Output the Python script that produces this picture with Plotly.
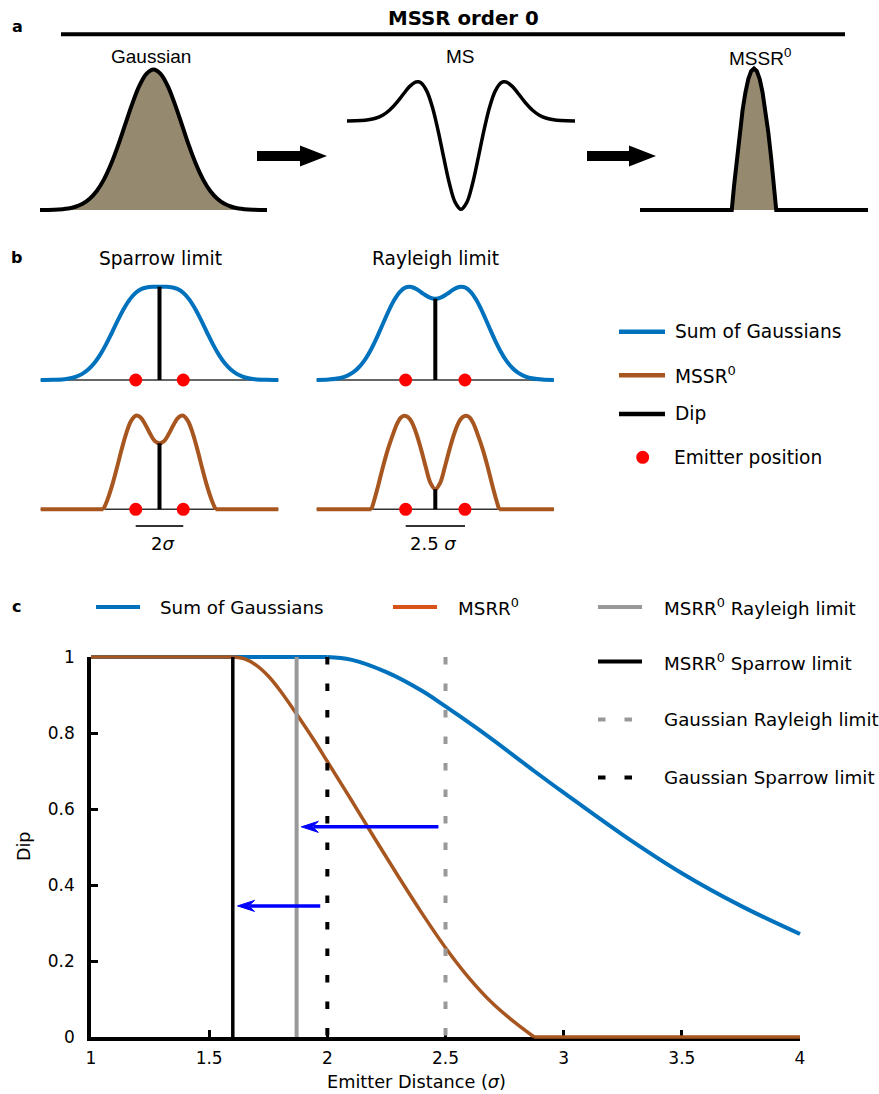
import plotly.graph_objects as go

W, H = 879, 1094
DV = "DejaVu Sans"
AR = "Liberation Sans"

# ---------------- Panel a data (profiles, x in sigma units) ----------------
gauss_x = [-4, -3.5, -3, -2.75, -2.5, -2.25, -2, -1.75, -1.5, -1.25, -1, -0.75, -0.5, -0.25, 0,
           0.25, 0.5, 0.75, 1, 1.25, 1.5, 1.75, 2, 2.25, 2.5, 2.75, 3, 3.5, 4]
gauss_y = [0.0003, 0.0022, 0.011, 0.023, 0.044, 0.080, 0.135, 0.216, 0.325, 0.458, 0.607, 0.755, 0.883, 0.969, 1.0,
           0.969, 0.883, 0.755, 0.607, 0.458, 0.325, 0.216, 0.135, 0.080, 0.044, 0.023, 0.011, 0.0022, 0.0003]

ms_x = [-4, -3.5, -3.25, -3, -2.75, -2.5, -2.25, -2, -1.8, -1.6, -1.5, -1.4, -1.2, -1, -0.8, -0.6, -0.4, -0.2, 0,
        0.2, 0.4, 0.6, 0.8, 1, 1.2, 1.4, 1.5, 1.6, 1.8, 2, 2.25, 2.5, 2.75, 3, 3.25, 3.5, 4]
ms_y = [0.001, 0.005, 0.014, 0.032, 0.066, 0.125, 0.211, 0.315, 0.393, 0.442, 0.446, 0.432, 0.339, 0.153, -0.115,
        -0.424, -0.716, -0.924, -1.0,
        -0.924, -0.716, -0.424, -0.115, 0.153, 0.339, 0.432, 0.446, 0.442, 0.393, 0.315, 0.211, 0.125, 0.066,
        0.032, 0.014, 0.005, 0.001]

mssr_x = [-4, -0.78, -0.7, -0.6, -0.5, -0.4, -0.3, -0.2, -0.1, 0, 0.1, 0.2, 0.3, 0.4, 0.5, 0.6, 0.7, 0.78, 4]
mssr_y = [0, 0, 0.171, 0.372, 0.552, 0.707, 0.832, 0.925, 0.981, 1.0, 0.981, 0.925, 0.832, 0.707, 0.552, 0.372,
          0.171, 0, 0]

# ---------------- Panel b data ----------------
bx = [-5, -4.5, -4, -3.75, -3.5, -3.25, -3, -2.75, -2.5, -2.25, -2, -1.75, -1.5, -1.25, -1, -0.75, -0.5, -0.25, 0,
      0.25, 0.5, 0.75, 1, 1.25, 1.5, 1.75, 2, 2.25, 2.5, 2.75, 3, 3.25, 3.5, 3.75, 4, 4.5, 5]
sum_sparrow = [0.0003, 0.0018, 0.0092, 0.0188, 0.0362, 0.0656, 0.1118, 0.1790, 0.2695, 0.3816, 0.5091, 0.6410,
               0.7637, 0.8646, 0.9359, 0.9773, 0.9951, 0.9996, 1.0,
               0.9996, 0.9951, 0.9773, 0.9359, 0.8646, 0.7637, 0.6410, 0.5091, 0.3816, 0.2695, 0.1790, 0.1118,
               0.0656, 0.0362, 0.0188, 0.0092, 0.0018, 0.0003]
sum_rayleigh = [0.0009, 0.0048, 0.0217, 0.0417, 0.0757, 0.1286, 0.2056, 0.3089, 0.4360, 0.5786, 0.7224, 0.8494,
                0.9430, 0.9923, 0.9970, 0.9675, 0.9231, 0.8852, 0.8704,
                0.8852, 0.9231, 0.9675, 0.9970, 0.9923, 0.9430, 0.8494, 0.7224, 0.5786, 0.4360, 0.3089, 0.2056,
                0.1286, 0.0757, 0.0417, 0.0217, 0.0048, 0.0009]

mssr_sp_x = [-5, -2.36, -2.2, -2.0, -1.8, -1.6, -1.4, -1.2, -1.0, -0.8, -0.6, -0.4, -0.2, 0,
             0.2, 0.4, 0.6, 0.8, 1.0, 1.2, 1.4, 1.6, 1.8, 2.0, 2.2, 2.36, 5]
mssr_sp_y = [0, 0, 0.095, 0.250, 0.435, 0.633, 0.812, 0.942, 1.0, 0.982, 0.907, 0.809, 0.73, 0.706,
             0.73, 0.809, 0.907, 0.982, 1.0, 0.942, 0.812, 0.633, 0.435, 0.250, 0.095, 0, 0]

mssr_ra_x = [-5, -2.69, -2.6, -2.4, -2.2, -2.0, -1.8, -1.6, -1.45, -1.31, -1.15, -1.0, -0.8, -0.6, -0.4, -0.2, 0,
             0.2, 0.4, 0.6, 0.8, 1.0, 1.15, 1.31, 1.45, 1.6, 1.8, 2.0, 2.2, 2.4, 2.6, 2.69, 5]
mssr_ra_y = [0, 0, 0.075, 0.26, 0.46, 0.64, 0.79, 0.92, 0.98, 1.0, 0.985, 0.935, 0.81, 0.64, 0.45, 0.28, 0.214,
             0.28, 0.45, 0.64, 0.81, 0.935, 0.985, 1.0, 0.98, 0.92, 0.79, 0.64, 0.46, 0.26, 0.075, 0, 0]

emit_sparrow = [-1.0, 1.0]
emit_rayleigh = [-1.25, 1.25]

# ---------------- Panel c data ----------------
sum_dist = [1, 1.5, 2.0, 2.1, 2.25, 2.4, 2.5, 2.625, 2.75, 2.875, 3.0, 3.25, 3.5, 3.75, 4.0]
sum_dip = [1, 1, 1, 0.993, 0.96, 0.911, 0.870, 0.816, 0.759, 0.70, 0.643, 0.532, 0.431, 0.345, 0.271]

mssr_dist = [1, 1.6, 1.65, 1.7, 1.75, 1.8, 1.87, 1.95, 2.0, 2.1, 2.2, 2.3, 2.4, 2.5, 2.6, 2.7, 2.8, 2.875, 3.5, 4.0]
mssr_dip = [1, 1, 0.995, 0.978, 0.950, 0.912, 0.850, 0.775, 0.725, 0.625, 0.523, 0.423, 0.326, 0.235, 0.155,
            0.088, 0.035, 0, 0, 0]

limit_names = ["MSRR<sup>0</sup> Sparrow limit", "MSRR<sup>0</sup> Rayleigh limit",
               "Gaussian Sparrow limit", "Gaussian Rayleigh limit"]
limit_x = [1.6, 1.87, 2.0, 2.5]

arrow_tail_x = [2.47, 1.97]
arrow_tip_x = [1.89, 1.62]
arrow_y = [0.553, 0.345]

c_xticks = [1, 1.5, 2, 2.5, 3, 3.5, 4]
c_xticklabels = ["1", "1.5", "2", "2.5", "3", "3.5", "4"]
c_yticks = [0, 0.2, 0.4, 0.6, 0.8, 1]
c_yticklabels = ["0", "0.2", "0.4", "0.6", "0.8", "1"]

# ---------------- styles ----------------
BLUE = "#0072BD"
BROWN = "#A8561F"
LEG_ORANGE = "#D95319"
GRAY = "#999999"
FILL = "#958A70"
RED = "#FF0000"

fig = go.Figure()
layout_axes = {}


def px(x):
    return x / W


def py(y):
    return 1 - y / H


def add_axes(n, px0, px1, ptop, pbot, xr, yr, pad=8):
    sx = (xr[1] - xr[0]) / (px1 - px0)
    sy = (yr[1] - yr[0]) / (pbot - ptop)
    kx = "xaxis" if n == 1 else "xaxis%d" % n
    ky = "yaxis" if n == 1 else "yaxis%d" % n
    layout_axes[kx] = dict(domain=[px(px0 - pad), px(px1 + pad)],
                           range=[xr[0] - pad * sx, xr[1] + pad * sx],
                           visible=False, fixedrange=True, anchor="y" if n == 1 else "y%d" % n)
    layout_axes[ky] = dict(domain=[py(pbot + pad), py(ptop - pad)],
                           range=[yr[0] - pad * sy, yr[1] + pad * sy],
                           visible=False, fixedrange=True, anchor="x" if n == 1 else "x%d" % n)
    return ("x" if n == 1 else "x%d" % n), ("y" if n == 1 else "y%d" % n)


def line(x, y, xa, ya, color, width, dash="solid", shape="spline", fill=None, fillcolor=None):
    fig.add_trace(go.Scatter(x=x, y=y, xaxis=xa, yaxis=ya, mode="lines",
                             line=dict(color=color, width=width, dash=dash, shape=shape),
                             fill=fill, fillcolor=fillcolor, hoverinfo="skip", showlegend=False))


def piecewise(x, y, xa, ya, color, width):
    """flat stretches drawn straight, curved stretch drawn smooth"""
    i0 = 0
    while i0 + 1 < len(y) and y[i0 + 1] == y[i0]:
        i0 += 1
    i1 = len(y) - 1
    while i1 - 1 > 0 and y[i1 - 1] == y[i1]:
        i1 -= 1
    if i0 > 0:
        line(x[:i0 + 1], y[:i0 + 1], xa, ya, color, width, shape="linear")
    line(x[i0:i1 + 1], y[i0:i1 + 1], xa, ya, color, width, shape="spline")
    if i1 < len(y) - 1:
        line(x[i1:], y[i1:], xa, ya, color, width, shape="linear")


# ---------------- Panel a ----------------
xa1, ya1 = add_axes(1, 40, 267, 69.5, 210, [-4, 4], [0, 1])
xa2, ya2 = add_axes(2, 347, 575, 81.7, 209.3, [-4, 4], [-1, 0.446])
xa3, ya3 = add_axes(3, 640, 868, 68.5, 210, [-4, 4], [0, 1])

line(gauss_x, gauss_y, xa1, ya1, "black", 4, fill="tozeroy", fillcolor=FILL)
line(ms_x, ms_y, xa2, ya2, "black", 3.5)
line(mssr_x, mssr_y, xa3, ya3, "black", 4, shape="linear", fill="tozeroy", fillcolor=FILL)

# ---------------- Panel b ----------------
xb1, yb1 = add_axes(4, 40.7, 278.3, 286.7, 380, [-5, 5], [0, 1])
xb2, yb2 = add_axes(5, 316.7, 553.9, 286.7, 380, [-5, 5], [0, 1])
xb3, yb3 = add_axes(6, 40.7, 278.3, 415.7, 509.3, [-5, 5], [0, 1])
xb4, yb4 = add_axes(7, 316.7, 553.9, 415.7, 509.3, [-5, 5], [0, 1])

b_panels = [
    (xb1, yb1, bx, sum_sparrow, BLUE, emit_sparrow),
    (xb2, yb2, bx, sum_rayleigh, BLUE, emit_rayleigh),
    (xb3, yb3, mssr_sp_x, mssr_sp_y, BROWN, emit_sparrow),
    (xb4, yb4, mssr_ra_x, mssr_ra_y, BROWN, emit_rayleigh),
]
for xa, ya, cx, cy, col, em in b_panels:
    line([cx[0], cx[-1]], [0, 0], xa, ya, "#333333", 1.4, shape="linear")
    piecewise(cx, cy, xa, ya, col, 4)
    dip = cy[cx.index(0)]
    line([0, 0], [0, dip], xa, ya, "black", 4, shape="linear")
    fig.add_trace(go.Scatter(x=em, y=[0, 0], xaxis=xa, yaxis=ya, mode="markers",
                             marker=dict(color=RED, size=13), cliponaxis=False,
                             hoverinfo="skip", showlegend=False))

# ---------------- Panel c ----------------
layout_axes["xaxis8"] = dict(domain=[px(91), px(800)], range=[1, 4], anchor="y8", fixedrange=True,
                             showline=True, linecolor="black", linewidth=3.5, showgrid=False, zeroline=False,
                             ticks="inside", ticklen=7, tickwidth=3, tickcolor="black", automargin=False,
                             tickvals=c_xticks, ticktext=c_xticklabels, ticklabelstandoff=3,
                             tickfont=dict(family=DV, size=17, color="black"))
layout_axes["yaxis8"] = dict(domain=[py(1037), py(657)], range=[0, 1], anchor="x8", fixedrange=True,
                             showline=True, linecolor="black", linewidth=3.5, showgrid=False, zeroline=False,
                             ticks="inside", ticklen=7, tickwidth=3, tickcolor="black", automargin=False,
                             tickvals=c_yticks, ticktext=c_yticklabels, ticklabelstandoff=9,
                             tickfont=dict(family=DV, size=17, color="black"))
fig.add_trace(go.Scatter(x=[c_xticks[0]], y=[c_yticks[0]], xaxis="x8", yaxis="y8", mode="markers",
                         marker=dict(opacity=0), hoverinfo="skip", showlegend=False))

xc, yc = add_axes(9, 91, 800, 657, 1037, [1, 4], [0, 1])
piecewise(sum_dist, sum_dip, xc, yc, BLUE, 4)
piecewise(mssr_dist, mssr_dip, xc, yc, BROWN, 3.5)
limit_styles = [("black", "solid", 3.5), (GRAY, "solid", 4), ("black", "7.5px,19px", 4), (GRAY, "7.5px,19px", 4)]
for lx, (col, dash, w) in zip(limit_x, limit_styles):
    line([lx, lx], [1, 0], xc, yc, col, w, dash=dash, shape="linear")

shapes = []
sxc = 3 / 709.0
syc = 1 / 380.0
for tx0, tx1, ay in zip(arrow_tail_x, arrow_tip_x, arrow_y):
    L = 17 * sxc
    h = 5.5 * syc
    shapes.append(dict(type="line", xref=xc, yref=yc, x0=tx0, x1=tx1 + 0.7 * L, y0=ay, y1=ay,
                       line=dict(color="#0000FF", width=3.5)))
    shapes.append(dict(type="path", xref=xc, yref=yc,
                       path="M %f,%f L %f,%f L %f,%f L %f,%f Z" % (tx1, ay, tx1 + L, ay + h, tx1 + 0.65 * L, ay,
                                                                 tx1 + L, ay - h),
                       fillcolor="#0000FF", line=dict(color="#0000FF", width=1)))

# ---------------- decorations (paper coordinates from pixels) ----------------
shapes.append(dict(type="line", xref="paper", yref="paper", x0=px(61), x1=px(845), y0=py(34.3), y1=py(34.3),
                   line=dict(color="black", width=4)))
for x0, tip in [(257, 327), (587, 656)]:
    hx = tip - 27
    yy = 156
    pts = [(x0, yy - 5), (hx, yy - 5), (hx, yy - 10.5), (tip, yy), (hx, yy + 10.5), (hx, yy + 5), (x0, yy + 5)]
    path = "M " + " L ".join("%f,%f" % (px(a), py(b)) for a, b in pts) + " Z"
    shapes.append(dict(type="path", xref="paper", yref="paper", path=path, fillcolor="black",
                       line=dict(color="black", width=0)))

for x0, x1 in [(135.7, 183.3), (405.7, 465)]:
    shapes.append(dict(type="line", xref="paper", yref="paper", x0=px(x0), x1=px(x1), y0=py(526), y1=py(526),
                       line=dict(color="#333333", width=1.8)))

for yy, col in [(331.7, BLUE), (375.3, BROWN), (414, "black")]:
    shapes.append(dict(type="line", xref="paper", yref="paper", x0=px(619), x1=px(665), y0=py(yy), y1=py(yy),
                       line=dict(color=col, width=4.5)))
shapes.append(dict(type="circle", xref="paper", yref="paper", x0=px(636.2), x1=px(649.2), y0=py(450.8),
                   y1=py(463.8), fillcolor=RED, line=dict(color=RED, width=0)))

for x0, x1, yy, col, dash in [(96, 140, 607, BLUE, "solid"), (393, 437, 607, LEG_ORANGE, "solid"),
                              (598, 642, 607, GRAY, "solid"), (598, 642, 661.5, "black", "solid"),
                              (598, 642, 719.5, GRAY, "7.5px,19px"), (598, 642, 777.5, "black", "7.5px,19px")]:
    shapes.append(dict(type="line", xref="paper", yref="paper", x0=px(x0), x1=px(x1), y0=py(yy), y1=py(yy),
                       line=dict(color=col, width=4, dash=dash)))

ann = []


def text(t, x, y, size, family=DV, xanchor="center", angle=0):
    ann.append(dict(text=t, x=px(x), y=py(y), xref="paper", yref="paper", showarrow=False,
                    xanchor=xanchor, yanchor="middle", textangle=angle,
                    font=dict(family=family, size=size, color="black")))


text("<b>a</b>", 17, 26, 16)
text("<b>b</b>", 16, 257, 16)
text("<b>c</b>", 16, 606, 16)
text("<b>MSSR order 0</b>", 463, 19, 19.8)
text("Gaussian", 151, 57, 19, family=AR)
text("MS", 460, 57, 19, family=AR)
text("MSSR<sup>0</sup>", 760, 57, 19, family=AR)

text("Sparrow limit", 160, 258, 18.6)
text("Rayleigh limit", 435, 258, 18.6)
text("2<i>σ</i>", 162, 543, 18)
text("2.5 <i>σ</i>", 433, 543, 18)
text("Sum of Gaussians", 673, 331.7, 18.6, xanchor="left")
text("MSSR<sup>0</sup>", 673, 375.3, 18.6, xanchor="left")
text("Dip", 673, 414, 18.6, xanchor="left")
text("Emitter position", 672, 457.3, 18.6, xanchor="left")

text("Sum of Gaussians", 158, 607, 18.3, xanchor="left")
text("MSRR<sup>0</sup>", 456, 607, 18.3, xanchor="left")
text(limit_names[1], 662, 607, 18.3, xanchor="left")
text(limit_names[0], 662, 661.5, 18.3, xanchor="left")
text(limit_names[3], 662, 719.5, 18.3, xanchor="left")
text(limit_names[2], 662, 777.5, 18.3, xanchor="left")
text("Emitter Distance (<i>σ</i>)", 416, 1082, 17.7)
text("Dip", 24, 847, 17.5, angle=-90)

fig.update_layout(width=W, height=H, margin=dict(l=0, r=0, t=0, b=0, pad=0, autoexpand=False),
                  paper_bgcolor="white", plot_bgcolor="rgba(0,0,0,0)",
                  showlegend=False, shapes=shapes, annotations=ann, **layout_axes)
fig.write_html("out.html", config={"displayModeBar": False},
               post_script="document.body.style.margin='0px';document.body.style.overflow='hidden';")
